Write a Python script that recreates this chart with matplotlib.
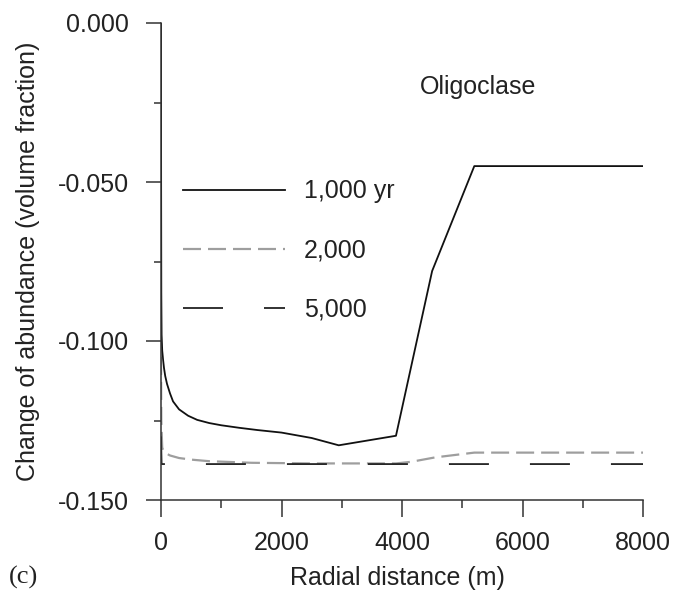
import numpy as np
import matplotlib
matplotlib.use('Agg')
import matplotlib.pyplot as plt
from matplotlib.lines import Line2D

plt.rcParams['font.family'] = ['Liberation Sans', 'DejaVu Sans']
plt.rcParams['lines.scale_dashes'] = False

# 1,000 yr
x_1000 = [0, 2, 5, 10, 20, 35, 50, 70, 100, 150, 200, 300, 450, 600, 800, 1000,
          1300, 1600, 2000, 2500, 2950, 3900, 4500, 5200, 8000]
y_1000 = [0.000, -0.050, -0.085, -0.098, -0.103, -0.106, -0.1085, -0.111, -0.1135,
          -0.1165, -0.119, -0.1215, -0.1235, -0.1248, -0.1258, -0.1265, -0.1273,
          -0.128, -0.1288, -0.1305, -0.1328, -0.1298, -0.078, -0.045, -0.045]

# 2,000 yr
x_2000 = [0, 5, 20, 50, 150, 300, 500, 800, 1500, 2500, 3900, 4150, 4550, 5200, 8000]
y_2000 = [-0.105, -0.125, -0.1335, -0.135, -0.1360, -0.1368, -0.1373, -0.1378,
          -0.1383, -0.1385, -0.1385, -0.1380, -0.1366, -0.1351, -0.1351]

# 5,000 yr
x_5000 = [0, 10, 8000]
y_5000 = [-0.130, -0.1387, -0.1387]

labels = ['1,000 yr', '2,000', '5,000']

px = 0.72  # points per pixel at dpi 100

styles = [
    dict(color='#111111', lw=1.3, linestyle='-'),
    dict(color='#9e9e9e', lw=1.6, linestyle=(0, (18 * px, 7 * px))),
    dict(color='#222222', lw=1.3, linestyle=(0, (40 * px, 41 * px))),
]

fig = plt.figure(figsize=(6.74, 6.0), dpi=100)
ax = fig.add_axes([161 / 674, 100 / 600, 482 / 674, 477 / 600])

ax.plot(x_1000, y_1000, **styles[0])
ax.plot(x_2000, y_2000, **styles[1])
ax.plot(x_5000, y_5000, **dict(styles[2], linestyle=(9 * px, (40 * px, 41 * px))))

ax.set_xlim(0, 8000)
ax.set_ylim(-0.150, 0.000)

for s in ['top', 'right']:
    ax.spines[s].set_visible(False)
for s in ['left', 'bottom']:
    ax.spines[s].set_color('#333333')
    ax.spines[s].set_linewidth(1.1)

xt = [0, 2000, 4000, 6000, 8000]
yt = [0.000, -0.050, -0.100, -0.150]
ax.set_xticks(xt)
ax.set_xticklabels([str(v) for v in xt])
ax.set_xticks([1000, 3000, 5000, 7000], minor=True)
ax.set_yticks(yt)
ax.set_yticklabels([f'{v:.3f}'.replace('-0.000', '0.000') for v in yt])
ax.set_yticks([-0.025, -0.075, -0.125], minor=True)

ax.tick_params(axis='x', which='major', direction='out', length=17 * px, width=1.1,
               color='#333333', pad=10, labelsize=18, labelcolor='#222222')
ax.tick_params(axis='x', which='minor', direction='out', length=8 * px, width=1.1,
               color='#333333')
ax.tick_params(axis='y', which='major', direction='out', length=15 * px, width=1.1,
               color='#333333', pad=12, labelsize=18, labelcolor='#222222')
ax.tick_params(axis='y', which='minor', direction='out', length=7 * px, width=1.1,
               color='#333333')

ax.set_xlabel('Radial distance (m)', fontsize=18, color='#222222')
ax.xaxis.set_label_coords(0.49, -0.139)
ax.set_ylabel('Change of abundance (volume fraction)', fontsize=18, color='#222222')
ax.yaxis.set_label_coords(-0.251, 0.5)

ax.text(0.537, 0.866, 'Oligoclase', transform=ax.transAxes, fontsize=18,
        color='#222222', ha='left', va='center')

# key drawn with proxy lines so the long dashes start at the handle's left end
handles = [Line2D([], [], **st) for st in styles]
ax.legend(handles, labels, loc='upper left', bbox_to_anchor=(0.045, 0.672),
          frameon=False, fontsize=18, handlelength=4.1, handletextpad=0.75,
          labelspacing=1.41, borderpad=0, borderaxespad=0, labelcolor='#222222')

fig.text(9 / 674, (600 - 577) / 600, '(c)', fontsize=19, family='Liberation Serif',
         color='#222222', ha='left', va='center')

fig.savefig('out.png', dpi=100)
